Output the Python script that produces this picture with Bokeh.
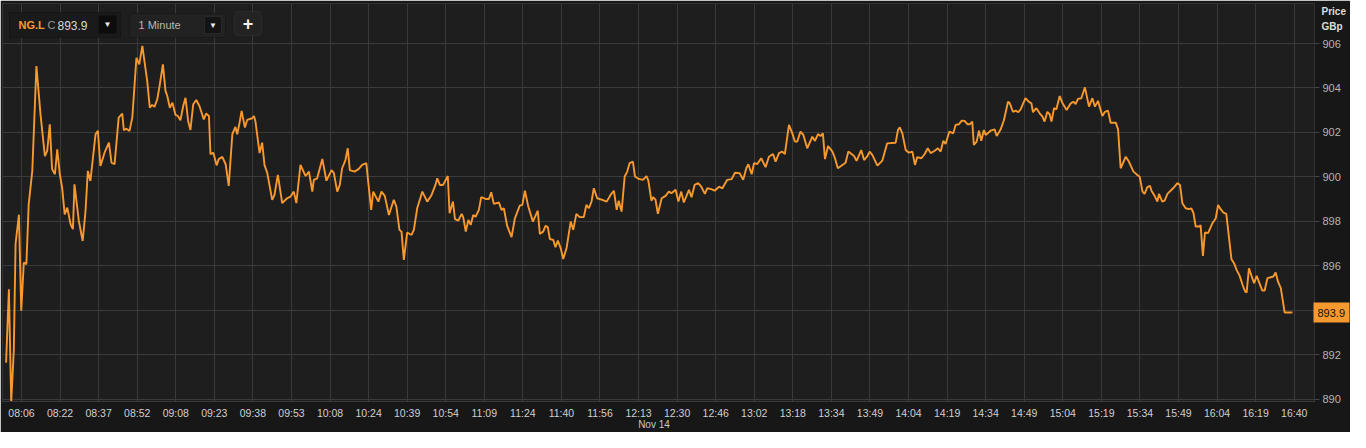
from bokeh.plotting import figure
from bokeh.models import FixedTicker, Label, BoxAnnotation, Range1d, LinearAxis
from bokeh.embed import file_html
from bokeh.resources import INLINE

# ---------------- data ----------------
bar_index = [
    0.0, 1.1, 2.0, 3.0, 3.7, 5.0, 5.9, 6.9, 7.9, 8.8,
    10.2, 11.8, 13.4, 15.1, 16.0, 17.0, 17.9, 19.0, 19.9, 20.9,
    21.8, 22.8, 23.8, 25.1, 26.0, 26.6, 28.3, 29.8, 30.9, 31.8,
    32.8, 34.8, 35.7, 36.7, 38.3, 40.0, 41.0, 42.2, 43.8, 45.2,
    45.8, 46.8, 48.0, 49.1, 50.7, 51.8, 53.0, 54.9, 55.9, 56.8,
    57.7, 58.8, 59.7, 61.0, 62.0, 62.7, 63.7, 64.7, 65.9, 66.8,
    67.8, 68.9, 69.8, 70.8, 71.7, 72.8, 74.0, 75.2, 76.9, 77.8,
    78.9, 79.5, 80.6, 81.9, 82.7, 84.1, 85.4, 86.6, 88.0, 89.2,
    89.9, 90.9, 91.6, 92.9, 93.8, 95.7, 96.4, 97.0, 98.6, 99.6,
    100.5, 101.6, 103.5, 104.4, 105.7, 107.4, 109.3, 110.6, 111.9, 112.9,
    114.5, 116.5, 117.8, 119.1, 119.7, 121.0, 123.0, 124.6, 126.6, 127.5,
    128.8, 129.8, 130.7, 132.0, 132.9, 133.7, 135.5, 137.2, 138.5, 140.1,
    142.0, 142.8, 144.8, 146.0, 147.3, 148.9, 150.8, 151.8, 153.0, 153.8,
    154.7, 156.0, 157.7, 158.6, 159.9, 161.9, 163.8, 165.5, 167.0, 167.7,
    168.7, 170.0, 171.8, 172.5, 173.8, 174.6, 175.9, 177.2, 177.8, 178.8,
    179.8, 180.7, 181.7, 182.6, 183.9, 184.8, 186.5, 187.8, 188.7, 189.7,
    191.7, 192.7, 193.6, 194.9, 196.6, 197.9, 199.8, 200.8, 201.8, 203.1,
    204.9, 206.8, 207.6, 208.9, 209.8, 210.7, 211.5, 212.8, 213.7, 214.6,
    215.7, 216.7, 218.0, 219.6, 220.6, 221.8, 223.1, 224.7, 225.7, 226.7,
    227.7, 228.6, 229.9, 231.9, 233.6, 235.1, 236.4, 237.5, 238.3, 239.4,
    240.6, 241.6, 242.5, 243.8, 244.6, 246.1, 247.7, 249.1, 249.8, 251.0,
    251.7, 252.6, 253.5, 255.0, 256.5, 257.8, 258.8, 260.4, 261.5, 262.6,
    263.6, 265.6, 266.6, 267.8, 269.2, 270.4, 271.8, 272.7, 274.3, 275.6,
    277.3, 278.6, 280.5, 282.2, 283.5, 285.3, 286.7, 287.9, 288.7, 290.0,
    290.9, 292.2, 293.7, 295.4, 296.7, 298.3, 299.3, 300.6, 301.9, 302.9,
    304.5, 305.8, 306.8, 307.7, 309.0, 310.1, 311.6, 313.6, 314.6, 315.8,
    316.8, 317.7, 318.5, 319.7, 321.4, 322.4, 323.5, 325.3, 326.5, 327.6,
    329.8, 330.8, 332.6, 333.7, 335.0, 335.9, 336.9, 338.9, 340.8, 342.7,
    346.0, 346.9, 347.6, 348.6, 349.9, 351.1, 352.5, 353.5, 354.4, 356.0,
    357.3, 358.5, 359.6, 361.2, 362.4, 363.5, 364.5, 365.4, 366.9, 368.4,
    369.3, 370.6, 371.7, 372.8, 373.9, 374.9, 375.8, 376.4, 377.5, 378.4,
    379.3, 380.3, 381.0, 382.9, 384.5, 385.3, 386.8, 388.1, 389.7, 390.4,
    391.6, 392.7, 393.7, 394.6, 396.5, 397.8, 398.8, 399.4, 400.7, 402.0,
    403.1, 403.9, 405.0, 405.9, 406.6, 407.6, 408.5, 409.8, 410.8, 412.5,
    414.1, 415.1, 416.0, 416.9, 418.2, 419.6, 421.2, 422.5, 423.5, 424.7,
    426.4, 427.4, 428.6, 429.6, 431.6, 432.5, 433.5, 435.5, 436.7, 438.5,
    440.0, 440.9, 442.0, 442.8, 443.9, 444.9, 445.5, 446.7, 447.8, 448.4,
    449.7, 450.6, 451.7, 453.9, 455.6, 456.6, 457.5, 458.8, 460.1, 461.0,
    461.8, 462.7, 464.2, 464.6, 465.5, 466.3, 467.5, 469.2, 470.5, 471.4,
    472.4, 473.5, 474.6, 476.6, 477.6, 478.6, 479.8, 480.9, 481.9, 482.5,
    483.4, 484.4, 485.4, 486.4, 487.6, 488.6, 489.5, 490.6, 491.9, 492.9,
    493.8, 494.7, 495.8, 497.3, 500.3,
]

price = [
    891.65, 894.95, 889.86, 892.2, 897.0, 898.3, 893.98, 896.15, 896.08, 898.77,
    900.27, 904.99, 902.8, 900.94, 901.17, 902.37, 900.35, 900.12, 901.24, 900.12,
    899.52, 898.32, 898.62, 897.87, 897.65, 899.67, 898.02, 897.12, 898.47, 900.27,
    899.82, 901.92, 902.07, 900.49, 901.09, 901.54, 900.64, 900.57, 902.67, 902.85,
    902.10, 902.17, 902.07, 902.67, 905.36, 905.06, 905.89, 904.31, 903.11, 903.24,
    903.15, 903.49, 904.09, 905.06, 903.87, 903.64, 903.11, 903.34, 902.79, 902.74,
    902.55, 903.19, 903.56, 902.52, 902.11, 903.27, 903.46, 903.19, 902.59, 902.85,
    902.74, 901.02, 901.09, 900.52, 900.80, 900.90, 900.57, 899.60, 901.92, 902.25,
    901.92, 902.49, 902.97, 902.22, 902.57, 902.64, 902.74, 902.49, 901.07, 901.54,
    900.54, 900.17, 898.97, 899.19, 900.09, 898.82, 899.04, 899.11, 899.34, 898.82,
    900.54, 900.04, 900.24, 899.34, 899.87, 899.94, 900.81, 899.83, 900.31, 900.17,
    899.34, 899.64, 900.39, 900.76, 901.29, 900.31, 900.24, 900.36, 900.54, 900.62,
    898.52, 899.34, 898.89, 899.34, 899.15, 898.29, 898.97, 898.67, 897.62, 897.54,
    896.27, 897.50, 897.39, 897.62, 898.59, 899.34, 898.89, 899.19, 899.64, 899.94,
    899.64, 899.64, 900.04, 898.37, 898.89, 898.10, 898.04, 898.34, 898.19, 897.54,
    898.07, 897.84, 898.29, 898.21, 898.52, 899.09, 899.01, 899.01, 899.31, 898.79,
    898.85, 898.52, 898.59, 897.80, 897.29, 898.14, 898.71, 898.74, 899.38, 898.67,
    897.99, 898.48, 897.44, 897.54, 897.80, 897.74, 897.21, 897.17, 896.84, 897.14,
    896.80, 896.31, 896.80, 897.99, 897.62, 898.34, 898.19, 898.19, 898.74, 898.59,
    898.89, 899.49, 899.04, 898.97, 898.89, 899.19, 899.38, 898.52, 898.93, 898.44,
    900.02, 900.24, 900.62, 900.69, 900.02, 899.91, 899.87, 900.04, 899.83, 898.93,
    899.09, 898.97, 898.34, 899.04, 899.15, 899.34, 899.27, 899.42, 898.89, 899.34,
    898.85, 899.42, 899.09, 899.64, 899.72, 899.56, 899.24, 899.49, 899.45, 899.38,
    899.56, 899.49, 899.87, 899.90, 900.19, 900.17, 899.87, 900.39, 900.57, 900.12,
    900.62, 900.58, 900.84, 900.44, 900.91, 901.03, 900.69, 901.07, 901.14, 901.03,
    902.34, 901.96, 901.59, 901.59, 902.04, 901.89, 901.29, 901.81, 901.62, 901.93,
    901.84, 901.96, 900.80, 901.39, 901.14, 900.84, 900.39, 900.54, 900.64, 901.14,
    900.94, 900.72, 901.21, 900.76, 900.94, 901.14, 900.99, 900.51, 900.73, 901.51,
    901.54, 902.11, 902.23, 901.96, 901.21, 901.09, 901.14, 900.54, 900.89, 900.84,
    901.03, 901.29, 901.07, 901.18, 901.29, 901.14, 901.62, 901.48, 902.04, 901.96,
    902.34, 902.37, 902.53, 902.52, 902.37, 902.37, 902.49, 901.44, 901.59, 902.08,
    901.63, 902.11, 901.89, 902.08, 902.14, 901.84, 902.13, 902.55, 903.38, 903.31,
    902.93, 902.98, 902.91, 903.04, 903.54, 903.38, 903.31, 902.91, 903.09, 902.86,
    902.71, 902.49, 902.93, 902.82, 902.49, 903.09, 903.04, 903.64, 903.34, 903.01,
    903.31, 903.38, 903.28, 903.51, 903.54, 904.03, 903.16, 903.54, 903.16, 903.42,
    902.74, 902.93, 902.98, 902.44, 902.44, 902.14, 900.39, 900.91, 900.69, 900.24,
    900.09, 900.01, 899.34, 899.24, 899.54, 899.60, 899.38, 899.15, 898.89, 899.24,
    898.89, 898.93, 899.24, 899.49, 899.72, 899.64, 898.82, 898.59, 898.55, 898.59,
    898.39, 897.77, 897.77, 897.84, 896.45, 897.50, 897.47, 897.92, 898.14, 898.74,
    898.55, 898.39, 898.34, 896.30, 896.12, 895.82, 895.55, 895.15, 894.85, 894.80,
    895.89, 895.55, 895.22, 895.55, 895.19, 894.89, 894.89, 895.45, 895.49, 895.52,
    895.70, 895.29, 895.00, 893.90, 893.90,
]

time_labels = [
    "08:06", "08:22", "08:37", "08:52", "09:08", "09:23", "09:38", "09:53",
    "10:08", "10:24", "10:39", "10:54", "11:09", "11:24", "11:40", "11:56",
    "12:13", "12:30", "12:46", "13:02", "13:18", "13:34", "13:49", "14:04",
    "14:19", "14:34", "14:49", "15:04", "15:19", "15:34", "15:49", "16:04",
    "16:19", "16:40",
]
price_ticks = [890, 892, 894, 896, 898, 900, 902, 904, 906]

ticker_symbol = "NG.L"
interval_name = "1 Minute"
currency_title = ["Price", "GBp"]
date_label = "Nov 14"
date_label_bar = 252

# ---------------- style / layout ----------------
ORANGE = "#f7992f"
FONT = "Liberation Sans"

W, H = 1350, 432
B_LEFT, B_TOP, B_RIGHT, B_BOTTOM = 2, 3, 36, 31
FRAME_W, FRAME_H = W - B_LEFT - B_RIGHT, H - B_TOP - B_BOTTOM
Y_LO, Y_HI = 889.90, 907.80

tick_pos = [6 + 15 * k for k in range(len(time_labels))]
last = price[-1]

p = figure(
    width=W, height=H, output_backend="svg", toolbar_location=None,
    x_range=Range1d(-1.39, 508.9), y_range=Range1d(Y_LO, Y_HI),
    y_axis_location="right",
    min_border_left=B_LEFT, min_border_top=B_TOP,
    min_border_right=B_RIGHT, min_border_bottom=B_BOTTOM,
    background_fill_color="#1e1e1e", border_fill_color="#171717",
    outline_line_color="#333333",
)

# grid
p.xgrid.ticker = FixedTicker(ticks=tick_pos)
p.ygrid.ticker = FixedTicker(ticks=price_ticks)
for g in (p.xgrid, p.ygrid):
    g.grid_line_color = "#3a3a3a"
    g.grid_line_width = 1

# x axis
xa = p.xaxis[0]
xa.ticker = FixedTicker(ticks=tick_pos)
xa.major_label_overrides = {t: lab for t, lab in zip(tick_pos, time_labels)}
xa.axis_line_color = "#3a3a3a"
xa.major_tick_out = 0
xa.major_tick_in = 0
xa.minor_tick_out = 0
xa.minor_tick_in = 0
xa.major_label_standoff = 5
xa.major_label_text_color = "#d0d0d0"
xa.major_label_text_font = FONT
xa.major_label_text_font_size = "10.5px"

# date line under the time axis
date_axis = LinearAxis(
    ticker=FixedTicker(ticks=[date_label_bar]),
    major_label_overrides={date_label_bar: date_label},
    axis_line_color=None, major_tick_out=0, major_tick_in=0,
    minor_tick_out=0, minor_tick_in=0, major_label_standoff=-3,
    major_label_text_color="#c8c8c8", major_label_text_font=FONT,
    major_label_text_font_size="10px",
)
p.add_layout(date_axis, "below")

# y axis (right) - price values
ya = p.yaxis[0]
ya.ticker = FixedTicker(ticks=[t for t in price_ticks if abs(t - last) > 0.5])
ya.axis_line_color = "#333333"
ya.major_tick_out = 5
ya.major_tick_in = 0
ya.minor_tick_out = 0
ya.minor_tick_in = 0
ya.major_tick_line_color = "#444444"
ya.major_label_standoff = 3
ya.major_label_text_color = "#b4b4b4"
ya.major_label_text_font = FONT
ya.major_label_text_font_size = "11px"

# last price tag (orange block drawn as a wide tick, label pulled back over it)
tag_axis = LinearAxis(
    ticker=FixedTicker(ticks=[last]),
    major_label_overrides={last: f"{last:.1f}"},
    axis_line_color=None,
    major_tick_in=30, major_tick_out=6,
    major_tick_line_color=ORANGE, major_tick_line_width=20,
    minor_tick_out=0, minor_tick_in=0,
    major_label_standoff=-32,
    major_label_text_color="#111111", major_label_text_font=FONT,
    major_label_text_font_size="11px",
)
p.add_layout(tag_axis, "right")

# currency header at the top of the price axis
def canvas_y_to_price(yc):
    return round(Y_HI - (yc - B_TOP) * (Y_HI - Y_LO) / FRAME_H, 2)

hdr_ticks = [canvas_y_to_price(11), canvas_y_to_price(26)]
hdr_axis = LinearAxis(
    ticker=FixedTicker(ticks=hdr_ticks),
    major_label_overrides={t: s for t, s in zip(hdr_ticks, currency_title)},
    axis_line_color=None, major_tick_out=0, major_tick_in=0,
    minor_tick_out=0, minor_tick_in=0, major_label_standoff=-27,
    major_label_text_color="#dddddd", major_label_text_font=FONT,
    major_label_text_font_style="bold", major_label_text_font_size="10px",
)
p.add_layout(hdr_axis, "right")

# price line
p.line(bar_index, price, line_color=ORANGE, line_width=1.9)

# ---------------- top-left controls ----------------
def box(l, r, t, b, fill, line, radius=0):
    p.add_layout(BoxAnnotation(left=l, right=r, top=t, bottom=b,
                               left_units="screen", right_units="screen",
                               top_units="screen", bottom_units="screen",
                               fill_color=fill, fill_alpha=1, line_color=line,
                               line_width=1, border_radius=radius, level="overlay"))

def text(x, y, s, color, size="11px", style="normal", align="left"):
    p.add_layout(Label(x=x, y=y, x_units="screen", y_units="screen", text=s,
                       text_color=color, text_font=FONT, text_font_size=size,
                       text_font_style=style, text_align=align,
                       text_baseline="middle", level="overlay"))

# symbol box
box(7, 118, FRAME_H - 9, FRAME_H - 34, "#1a1a1a", "#050505")
box(96, 114, FRAME_H - 12, FRAME_H - 30, "#0c0c0c", None)
text(16, FRAME_H - 21.5, ticker_symbol, ORANGE, "11px", "bold")
text(45, FRAME_H - 21.5, "C", "#9a9a9a", "11px")
text(55, FRAME_H - 21.5, f"{last:.1f}", "#d8d8d8", "12px")
text(105, FRAME_H - 21, "\u25BC", "#eeeeee", "8px", align="center")

# interval box
box(127, 223, FRAME_H - 10, FRAME_H - 34, "#222222", "#0a0a0a", 3)
text(136, FRAME_H - 21.5, interval_name, "#b8b8b8", "11px")
box(202, 219, FRAME_H - 13, FRAME_H - 30, "#141414", "#4a4a4a", 2)
text(210.5, FRAME_H - 21.5, "\u25BC", "#eeeeee", "8px", align="center")

# plus button
box(232, 259, FRAME_H - 8, FRAME_H - 32, "#232323", "#3e3e3e", 3)
text(245.5, FRAME_H - 20, "+", "#f0f0f0", "18px", "bold", align="center")

open("out.html", "w").write(file_html(p, INLINE))
